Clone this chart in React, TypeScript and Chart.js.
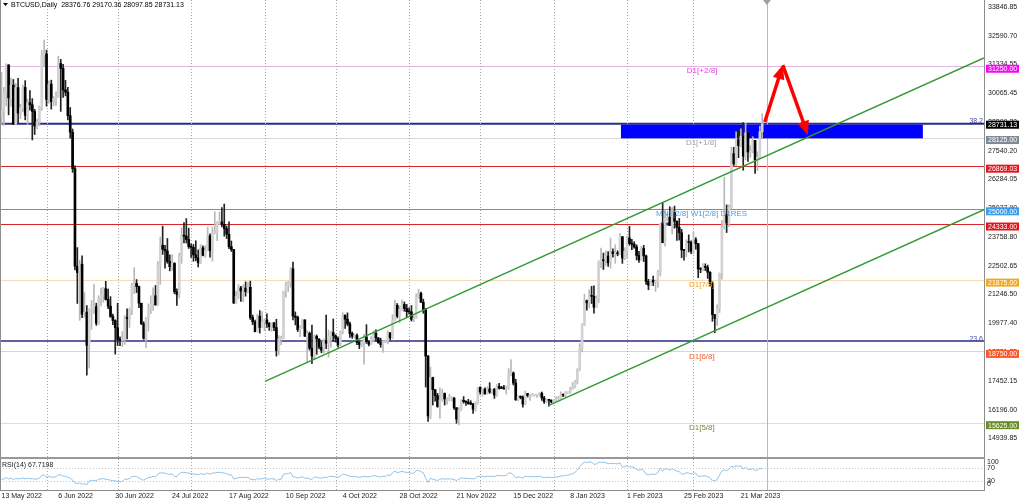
import React, { useEffect, useRef } from "react";
import { Chart, registerables } from "chart.js";

Chart.register(...registerables);

const FONT = '"Liberation Sans", Arial, sans-serif';

// ---------------- data ----------------
const symbolName = "BTCUSD,Daily";
const rsiName = "RSI(14)";
const firstOpen = 29030;

// daily closes 13 May 2022 .. 30 Mar 2023
const closes = [
  // May 2022 (13..31)
  29283, 30101, 31305, 29862, 30425, 28720, 30314, 29200, 29432, 30323, 29098, 29655, 29562, 29267, 28627, 28814, 29445, 31726, 31792,
  // Jun
  29799, 30467, 29704, 29833, 29906, 31370, 31155, 30214, 30112, 29083, 28360, 26762, 22487, 22206, 22572, 20381, 20472, 19017, 20553, 20599, 20710, 19988, 21086, 21231, 21502, 21028, 20735, 20281, 20104, 19785,
  // Jul
  19269, 19243, 19297, 20232, 20191, 20548, 21637, 21731, 21592, 20861, 19970, 19323, 20212, 20569, 20837, 21191, 20785, 22525, 23410, 23223, 23155, 22685, 22465, 22610, 21361, 21240, 22930, 23844, 23804, 23656, 23337,
  // Aug
  23314, 22978, 22846, 22630, 23289, 22961, 23175, 23810, 23164, 23948, 23957, 24402, 24424, 24319, 24136, 23883, 23336, 23213, 20877, 21166, 21534, 21398, 21529, 21368, 21560, 20239, 20041, 19616, 20297, 19797, 20049,
  // Sep
  20127, 19969, 19833, 20001, 19796, 18791, 19290, 19329, 21381, 21680, 21769, 22370, 20296, 20241, 19701, 19772, 20127, 19419, 19544, 18890, 18547, 19413, 19297, 18937, 18803, 19222, 19110, 19426, 19573, 19431,
  // Oct
  19312, 19044, 19623, 20336, 20160, 19955, 19531, 19417, 19446, 19141, 19051, 19157, 19382, 19185, 19067, 19268, 19550, 19334, 19139, 19053, 19172, 19208, 19567, 19345, 20095, 20771, 20295, 20591, 20809, 20627, 20490,
  // Nov
  20483, 20151, 20207, 21148, 21299, 20905, 20591, 18547, 15922, 17601, 17070, 16812, 16330, 16619, 16900, 16662, 16692, 16700, 16700, 16280, 15782, 16196, 16603, 16547, 16521, 16460, 16445, 16217, 16445, 17168,
  // Dec
  16968, 17092, 16885, 17106, 16967, 17089, 16837, 17222, 17134, 17129, 17105, 17186, 17776, 17806, 17364, 16631, 16776, 16738, 16439, 16906, 16818, 16830, 16831, 16838, 16841, 16918, 16707, 16547, 16634, 16607, 16540,
  // Jan 2023
  16616, 16673, 16674, 16852, 16832, 16951, 16955, 17091, 17196, 17446, 17934, 18869, 19909, 20976, 20880, 21169, 21161, 20689, 21086, 22676, 22777, 22720, 22934, 22636, 23117, 23032, 23078, 23031, 23774, 22840, 23139,
  // Feb
  23723, 23471, 23449, 23331, 22955, 22760, 23264, 22939, 21819, 21651, 21870, 21788, 21808, 22220, 24327, 23517, 24569, 24631, 24271, 24842, 24453, 24188, 23947, 23199, 23175, 23562, 23522, 23147,
  // Mar (1..30)
  23646, 23475, 22362, 22354, 22436, 22429, 22220, 21718, 20363, 20187, 20633, 22163, 24197, 24746, 24375, 25052, 27423, 26966, 28038, 27767, 28176, 27307, 28333, 27493, 27494, 27994, 27139, 27268, 28376.76, 28731.13,
];

const highs = [
  30980, 30320, 31360, 31320, 30730, 30670, 30500, 30720, 29590, 30420, 30620, 29810, 30180, 29830, 29360, 28930, 29510, 31940, 32400,
  31960, 30610, 30640, 29920, 30130, 31690, 31550, 31330, 30630, 30330, 29440, 28500, 26880, 23300, 22750, 22940, 21330, 20760, 20610, 20990, 21690, 20860, 21190, 21520, 21560, 21820, 21480, 21150, 20390, 20140,
  20860, 19390, 19620, 20320, 20620, 20650, 21730, 22420, 21900, 21610, 20860, 20050, 20240, 20830, 21190, 21540, 21640, 22690, 23760, 24240, 23400, 23700, 22980, 22990, 22640, 21490, 23050, 24170, 24400, 24570, 24150,
  23470, 23440, 23600, 23200, 23430, 23380, 23380, 24200, 23900, 24200, 24870, 24440, 24860, 25050, 25210, 24250, 24430, 23590, 23220, 21380, 21680, 21600, 21670, 21800, 21780, 21830, 20340, 20120, 20380, 20540, 20490,
  20180, 20400, 20020, 20010, 20020, 20160, 19440, 19420, 21390, 21790, 21820, 22430, 22670, 20480, 20300, 19880, 20160, 20140, 19660, 19600, 19900, 19470, 19470, 19300, 19150, 19300, 20340, 19690, 19630, 20170,
  19480, 19390, 19650, 20440, 20350, 20440, 20040, 19600, 19510, 19520, 19200, 19210, 19500, 19920, 19210, 19400, 19660, 19690, 19360, 19330, 19240, 19250, 19650, 19580, 20360, 21000, 20850, 20730, 21000, 20920, 20810,
  20660, 20760, 20380, 21270, 21470, 21350, 21040, 20640, 18570, 18070, 17620, 17080, 16910, 17150, 17090, 16930, 16730, 16860, 16780, 16740, 16280, 16290, 16640, 16770, 16580, 16650, 16590, 16470, 16540, 17180,
  17200, 17100, 17150, 17200, 17380, 17100, 17130, 17300, 17350, 17220, 17260, 17240, 18000, 18390, 17850, 17530, 16800, 16800, 16800, 17010, 16910, 16860, 16900, 16860, 16860, 16940, 16970, 16780, 16650, 16640, 16630,
  16630, 16760, 16780, 16980, 16880, 16990, 16970, 17180, 17390, 17480, 17990, 19090, 19960, 21260, 21000, 21450, 21600, 21620, 21180, 22720, 23280, 23060, 23160, 23130, 23720, 23250, 23430, 23160, 23920, 23790, 23290,
  23790, 24230, 23660, 23560, 23420, 23140, 23350, 23400, 22970, 21910, 21900, 22050, 21880, 22300, 24360, 25250, 24970, 24800, 25090, 25050, 25120, 24470, 24580, 24100, 23210, 23640, 23860, 23600,
  23970, 23740, 23480, 22420, 22600, 22590, 22530, 22250, 21800, 20370, 20790, 22190, 24500, 26390, 25170, 25180, 27700, 27700, 28380, 28470, 28510, 28780, 28750, 28380, 27770, 28160, 28000, 27500, 28620, 29170.36,
];

const lows = [
  28700, 28660, 29510, 29120, 29500, 28700, 28680, 28750, 28950, 29260, 28900, 28700, 29320, 28020, 28260, 28500, 28640, 29320, 31230,
  29500, 29630, 29370, 29520, 29530, 29890, 29270, 29880, 29950, 28900, 28100, 26600, 22320, 20850, 20110, 20230, 20250, 17710, 18020, 19720, 20400, 19890, 19930, 20740, 20900, 21000, 20620, 20240, 19920, 18630,
  19010, 19000, 18960, 19060, 19300, 19800, 20360, 21280, 21330, 20670, 19920, 19280, 18910, 19650, 20400, 20550, 20780, 20780, 21690, 23000, 22400, 22610, 22280, 22300, 21280, 20770, 21090, 22610, 23500, 23500, 23260,
  22870, 22700, 22720, 22450, 22600, 22930, 22870, 23160, 22880, 22700, 23900, 23600, 24290, 24210, 23800, 23700, 23250, 23130, 20840, 20860, 21070, 20940, 20930, 21170, 21320, 20150, 19920, 19600, 19600, 19550, 19790,
  19650, 19800, 19670, 19630, 19660, 18540, 18600, 19030, 19320, 21130, 21370, 21560, 20130, 19910, 19620, 19390, 19760, 19400, 18290, 18810, 18210, 18400, 18620, 18860, 18690, 18680, 18870, 18500, 18940, 19200,
  19160, 18930, 19000, 19520, 19760, 19870, 19360, 19320, 19330, 19050, 18870, 18960, 18190, 19100, 18990, 19060, 19160, 19200, 19100, 18930, 18710, 19130, 19080, 19240, 19310, 20070, 20220, 20010, 20560, 20510, 20240,
  20380, 20080, 20050, 20190, 21080, 20900, 20420, 17190, 15680, 15800, 16400, 16570, 16300, 15820, 16560, 16400, 16430, 16580, 16580, 16210, 15600, 15530, 16160, 16480, 16380, 16430, 16410, 16030, 16130, 16440,
  16870, 16790, 16880, 16880, 16910, 16910, 16690, 16780, 17090, 17120, 17090, 16880, 17090, 17670, 17280, 16600, 16590, 16670, 16300, 16420, 16750, 16600, 16790, 16790, 16730, 16790, 16600, 16470, 16500, 16350, 16490,
  16500, 16570, 16610, 16660, 16760, 16720, 16910, 16910, 17090, 17150, 17320, 17900, 18730, 19890, 20560, 20660, 20850, 20430, 20670, 20880, 22420, 22340, 22520, 22470, 22400, 22880, 22610, 22940, 22990, 22610, 22770,
  22850, 23400, 23210, 23270, 22760, 22650, 22740, 22690, 21690, 21450, 21630, 21630, 21380, 21550, 22060, 23510, 23360, 24470, 24270, 23900, 24150, 23620, 23630, 22860, 22750, 22910, 23110, 23030,
  23030, 23230, 21980, 22200, 22280, 22290, 21950, 21610, 20070, 19570, 19890, 20450, 21920, 24120, 23960, 24230, 25000, 26900, 26900, 27240, 27720, 26690, 27150, 27080, 27260, 27450, 26550, 26680, 27250, 28097.85,
];

const rsiValues = [
  34, 36, 40, 36, 38, 34, 38, 36, 37, 39, 36, 38, 37, 37, 35, 36, 38, 47, 48,
  41, 44, 41, 42, 42, 49, 48, 45, 44, 41, 38, 33, 23, 22, 24, 20, 21, 18, 30, 31, 32, 30, 35, 36, 37, 35, 34, 32, 31, 30,
  28, 28, 29, 35, 35, 37, 43, 44, 43, 39, 35, 32, 37, 40, 41, 44, 42, 51, 55, 54, 54, 51, 50, 51, 44, 43, 52, 56, 56, 55, 53,
  53, 51, 50, 49, 52, 50, 51, 54, 50, 54, 54, 56, 56, 55, 54, 52, 49, 48, 36, 38, 40, 40, 41, 40, 41, 35, 34, 33, 37, 35, 37,
  37, 36, 35, 37, 36, 31, 35, 35, 50, 52, 52, 56, 42, 42, 39, 40, 43, 38, 39, 36, 34, 42, 41, 39, 38, 41, 40, 43, 44, 43,
  42, 40, 45, 51, 49, 47, 44, 43, 44, 42, 41, 42, 44, 43, 42, 44, 46, 45, 43, 42, 44, 44, 48, 46, 55, 60, 55, 57, 59, 57, 56,
  56, 53, 54, 61, 62, 58, 55, 38, 25, 38, 35, 33, 31, 35, 37, 35, 36, 36, 36, 34, 31, 35, 39, 38, 38, 37, 37, 36, 38, 44,
  43, 44, 42, 45, 43, 45, 42, 47, 46, 46, 46, 47, 54, 54, 48, 40, 42, 41, 38, 44, 43, 43, 43, 43, 43, 44, 42, 40, 41, 41, 40,
  41, 42, 42, 45, 45, 47, 47, 50, 52, 56, 63, 74, 82, 88, 86, 88, 88, 80, 82, 87, 87, 86, 86, 82, 84, 83, 83, 82, 85, 72, 74,
  77, 73, 73, 71, 65, 62, 66, 62, 50, 48, 51, 50, 50, 55, 70, 60, 67, 67, 63, 67, 63, 60, 58, 51, 51, 55, 54, 51,
  55, 53, 44, 44, 45, 45, 43, 39, 31, 30, 34, 48, 61, 64, 61, 65, 75, 72, 77, 74, 76, 66, 72, 65, 65, 68, 62, 63, 68, 67.7198,
];

const dateTickIndex = [0, 24, 48, 72, 96, 120, 144, 168, 192, 216, 240, 264, 288, 312];
const dateTickLabels = [
  "13 May 2022", "6 Jun 2022", "30 Jun 2022", "24 Jul 2022", "17 Aug 2022", "10 Sep 2022", "4 Oct 2022",
  "28 Oct 2022", "21 Nov 2022", "15 Dec 2022", "8 Jan 2023", "1 Feb 2023", "25 Feb 2023", "21 Mar 2023",
];
const monthStartIndex = [19, 49, 80, 111, 141, 172, 202, 233, 264, 292];
const shiftIndex = 323;

const priceTicks = [
  33846.85, 32590.7, 31334.55, 30065.45, 28809.3, 27540.2, 26284.05, 25027.9, 23758.8, 22502.65, 21246.5,
  19977.4, 18721.25, 17452.15, 16196.0, 14939.85,
];
const rsiTicks = [100, 70, 30, 0];
const rsiLevels = [70, 30];

const levelPrices = [31250, 28731.13, 28125, 26869.03, 25000, 24333, 21875, 19200, 18750, 15625];
const boxPrices = [31250, 28731.13, 28125, 26869.03, 25000, 24333, 21875, 18750, 15625];
const fibPrices = [28731.13, 19200];
const fibNames = ["38.2", "23.6"];
const murreyNames = ["D1[+2/8]", "D1[+1/8]", "MN1[2/8] W1[2/8] D1RES", "D1[7/8]", "D1[6/8]", "D1[5/8]"];
const murreyPrices = [31250, 28125, 25000, 21875, 18750, 15625];
const murreyIndex = [289.2, 288.8, 276.2, 290.1, 290.1, 290.1];
const zoneIndex = [261.4, 388.8];
const zonePrices = [28090, 28690];
const markIndex = [278.3, 282.1];
const markPrice = 24333;
const upperChannelIndex = [111.2, 414.6];
const upperChannelPrices = [17436, 31615];
const lowerChannelIndex = [231.0, 414.6];
const lowerChannelPrices = [16385, 24963];
const arrowIndex = [322.1, 329.7, 340.3];
const arrowPrices = [28805, 31300, 28237];

// axis ranges
const X_MIN = -0.633;
const X_MAX = 414.6;
const Y_MIN = 12630;
const Y_MAX = 34153.7;
const RSI_MIN = -1;
const RSI_MAX = 1502;

// ---------------- styles ----------------
const levelColors = ["#e2b4e2", "#2b2b86", "#d8d8d8", "#d9262b", "#3f9cf0", "#d9262b", "#f4dcb8", "#2b2b86", "#f6cbb0", "#e2e2b4"];
const levelWidths = [1, 2, 1, 1, 1, 1, 1, 1.5, 1, 1];
const boxColors = ["#ff00ff", "#000000", "#808a94", "#e8141c", "#3a9af0", "#e8141c", "#f2a81c", "#ff5626", "#6a8c26"];
const murreyColors = ["#e040e0", "#9ca2a8", "#4a9ee6", "#f0a21e", "#f05a22", "#6a9030"];

const opens = [firstOpen, ...closes.slice(0, -1)];
const isBull = closes.map((c, i) => c >= opens[i]);

function font(size: number) {
  return `${size}px ${FONT}`;
}

const overlayPlugin = {
  id: "mt4Overlay",
  beforeDatasetsDraw(chart: any) {
    const { ctx, chartArea: a, scales } = chart;
    const X = (v: number) => scales.x.getPixelForValue(v);
    const Y = (v: number) => scales.y.getPixelForValue(v);
    const R = (v: number) => scales.yRsi.getPixelForValue(v);
    const split = R(100);
    ctx.save();
    // horizontal levels
    levelPrices.forEach((p, k) => {
      const w = levelWidths[k];
      const y = w === 1 ? Math.round(Y(p)) + 0.5 : Y(p);
      ctx.strokeStyle = levelColors[k];
      ctx.lineWidth = w;
      ctx.beginPath();
      ctx.moveTo(a.left, y);
      ctx.lineTo(a.right, y);
      ctx.stroke();
    });
    // month separators
    ctx.strokeStyle = "#a8a8a8";
    ctx.lineWidth = 1;
    ctx.setLineDash([1, 2]);
    monthStartIndex.forEach((i) => {
      const x = Math.round(X(i)) + 0.5;
      ctx.beginPath();
      ctx.moveTo(x, a.top);
      ctx.lineTo(x, a.bottom);
      ctx.stroke();
    });
    // rsi levels
    ctx.strokeStyle = "#c8c8c8";
    rsiLevels.forEach((v) => {
      const y = Math.round(R(v)) + 0.5;
      ctx.beginPath();
      ctx.moveTo(a.left, y);
      ctx.lineTo(a.right, y);
      ctx.stroke();
    });
    ctx.setLineDash([]);
    // shift line
    const sx = Math.round(X(shiftIndex)) + 0.5;
    ctx.strokeStyle = "#b8b8b8";
    ctx.beginPath();
    ctx.moveTo(sx, a.top);
    ctx.lineTo(sx, a.bottom);
    ctx.stroke();
    // blue zone
    ctx.beginPath();
    ctx.rect(a.left, a.top, a.right - a.left, split - a.top);
    ctx.clip();
    const zx0 = X(zoneIndex[0]);
    const zx1 = X(zoneIndex[1]);
    const zy0 = Y(zonePrices[1]);
    const zy1 = Y(zonePrices[0]);
    ctx.fillStyle = "#0000ff";
    ctx.fillRect(zx0, zy0, zx1 - zx0, zy1 - zy0);
    // small mark
    ctx.strokeStyle = "#3a2c9c";
    ctx.lineWidth = 3;
    ctx.beginPath();
    ctx.moveTo(X(markIndex[0]), Y(markPrice));
    ctx.lineTo(X(markIndex[1]), Y(markPrice));
    ctx.stroke();
    ctx.restore();
  },
  afterDatasetsDraw(chart: any) {
    const { ctx, chartArea: a, scales } = chart;
    const X = (v: number) => scales.x.getPixelForValue(v);
    const Y = (v: number) => scales.y.getPixelForValue(v);
    const R = (v: number) => scales.yRsi.getPixelForValue(v);
    const split = R(100);
    ctx.save();

    // red arrow
    const pts = arrowIndex.map((i, k) => [X(i), Y(arrowPrices[k])]);
    ctx.strokeStyle = "#ff0000";
    ctx.fillStyle = "#ff0000";
    ctx.lineWidth = 3.5;
    ctx.lineCap = "butt";
    for (let k = 0; k < pts.length - 1; k++) {
      const [x0, y0] = pts[k];
      const [x1, y1] = pts[k + 1];
      const ang = Math.atan2(y1 - y0, x1 - x0);
      const cs = Math.cos(ang);
      const sn = Math.sin(ang);
      const hl = 14;
      const hw = 6;
      const bx = x1 - hl * cs;
      const by = y1 - hl * sn;
      ctx.beginPath();
      ctx.moveTo(x0, y0);
      ctx.lineTo(bx + cs, by + sn);
      ctx.stroke();
      ctx.beginPath();
      ctx.moveTo(x1, y1);
      ctx.lineTo(bx - hw * sn, by + hw * cs);
      ctx.lineTo(bx + hw * sn, by - hw * cs);
      ctx.closePath();
      ctx.fill();
    }

    // murrey labels
    ctx.font = font(8);
    ctx.textBaseline = "middle";
    ctx.textAlign = "left";
    murreyNames.forEach((t, k) => {
      ctx.fillStyle = murreyColors[k];
      ctx.fillText(t, X(murreyIndex[k]), Y(murreyPrices[k]) + 5);
    });

    // fib labels
    ctx.font = font(7);
    ctx.textAlign = "right";
    ctx.fillStyle = "#4a4aa0";
    fibPrices.forEach((p, k) => {
      ctx.fillText(fibNames[k], a.right - 1, Y(p) - 2.5);
    });

    // frame
    ctx.strokeStyle = "#8c8c8c";
    ctx.lineWidth = 1;
    ctx.beginPath();
    ctx.moveTo(a.left + 0.5, a.top);
    ctx.lineTo(a.left + 0.5, a.bottom);
    ctx.moveTo(a.right + 0.5, a.top);
    ctx.lineTo(a.right + 0.5, a.bottom);
    ctx.moveTo(a.left, a.bottom - 0.5);
    ctx.lineTo(a.right + 1, a.bottom - 0.5);
    ctx.stroke();
    ctx.strokeStyle = "#999999";
    ctx.lineWidth = 2;
    ctx.beginPath();
    ctx.moveTo(a.left, split);
    ctx.lineTo(a.right + 1, split);
    ctx.stroke();

    // shift marker triangle
    const sx = X(shiftIndex);
    ctx.fillStyle = "#a0a0a0";
    ctx.beginPath();
    ctx.moveTo(sx - 4, a.top);
    ctx.lineTo(sx + 4, a.top);
    ctx.lineTo(sx, a.top + 5);
    ctx.closePath();
    ctx.fill();

    // price boxes on axis
    ctx.font = font(7);
    ctx.textAlign = "left";
    ctx.textBaseline = "middle";
    boxPrices.forEach((p, k) => {
      const yc = Y(p) + (k === 1 ? 1 : 2.5);
      ctx.fillStyle = boxColors[k];
      ctx.fillRect(a.right + 2, yc - 4, 33, 8);
      ctx.fillStyle = "#ffffff";
      ctx.fillText(p.toFixed(2), a.right + 4, yc + 0.5);
    });

    // rsi axis labels
    ctx.fillStyle = "#1a1a1a";
    rsiTicks.forEach((v) => {
      const y = Math.min(Math.max(R(v), split + 4), a.bottom - 6.5);
      ctx.fillText(String(v), a.right + 3, y);
    });

    // rsi label
    const n = closes.length - 1;
    ctx.fillText(`${rsiName} ${rsiValues[n].toFixed(4)}`, a.left + 2, split + 7);

    // title
    ctx.fillStyle = "#000000";
    ctx.beginPath();
    ctx.moveTo(a.left + 3, a.top + 3);
    ctx.lineTo(a.left + 8, a.top + 3);
    ctx.lineTo(a.left + 5.5, a.top + 6);
    ctx.closePath();
    ctx.fill();
    ctx.fillText(
      `${symbolName}  ${opens[n].toFixed(2)} ${highs[n].toFixed(2)} ${lows[n].toFixed(2)} ${closes[n].toFixed(2)}`,
      a.left + 11,
      a.top + 5.5
    );
    ctx.restore();
  },
};

export default function App() {
  const ref = useRef<HTMLCanvasElement>(null);
  useEffect(() => {
    document.body.style.margin = "0";
    Chart.defaults.font.family = FONT;
    const idx = closes.map((_, i) => i);
    const chart = new Chart(ref.current as HTMLCanvasElement, {
      type: "bar",
      data: {
        datasets: [
          {
            type: "line",
            data: upperChannelIndex.map((x, k) => ({ x, y: upperChannelPrices[k] })),
            borderColor: "#339933",
            borderWidth: 1.5,
            pointRadius: 0,
            xAxisID: "x",
            yAxisID: "y",
            order: 0,
          } as any,
          {
            type: "line",
            data: lowerChannelIndex.map((x, k) => ({ x, y: lowerChannelPrices[k] })),
            borderColor: "#339933",
            borderWidth: 1.5,
            pointRadius: 0,
            xAxisID: "x",
            yAxisID: "y",
            order: 0,
          } as any,
          {
            type: "bar",
            data: idx.map((i) => ({ x: i, y: [opens[i], closes[i]] })),
            backgroundColor: isBull.map((b) => (b ? "#d2d2d2" : "#000000")),
            barThickness: 2,
            grouped: false,
            minBarLength: 1,
            xAxisID: "x",
            yAxisID: "y",
            order: 1,
          } as any,
          {
            type: "bar",
            data: idx.map((i) => ({ x: i, y: [lows[i], highs[i]] })),
            backgroundColor: isBull.map((b) => (b ? "#b8b8b8" : "#222222")),
            barThickness: 1,
            grouped: false,
            xAxisID: "x",
            yAxisID: "y",
            order: 2,
          } as any,
          {
            type: "line",
            data: idx.map((i) => ({ x: i, y: rsiValues[i] })),
            borderColor: "#92c2e6",
            borderWidth: 1,
            pointRadius: 0,
            tension: 0,
            xAxisID: "x",
            yAxisID: "yRsi",
            order: 3,
          } as any,
        ],
      },
      options: {
        responsive: false,
        animation: false,
        devicePixelRatio: 1,
        events: [],
        layout: { padding: 0 },
        plugins: {
          legend: { display: false },
          tooltip: { enabled: false },
          title: { display: false },
        },
        scales: {
          x: {
            type: "linear",
            axis: "x",
            min: X_MIN,
            max: X_MAX,
            offset: false,
            position: "bottom",
            grid: { display: false, drawTicks: false, offset: false },
            border: { display: false },
            ticks: {
              autoSkip: false,
              maxRotation: 0,
              minRotation: 0,
              align: "start",
              padding: 1,
              color: "#1a1a1a",
              font: { size: 7, family: FONT },
              callback: (_v: any, i: number) => dateTickLabels[i] ?? "",
            },
            afterBuildTicks: (s: any) => {
              s.ticks = dateTickIndex.map((v) => ({ value: v }));
            },
            afterFit: (s: any) => {
              s.height = 10;
              s.paddingLeft = 0;
              s.paddingRight = 0;
            },
          },
          y: {
            type: "linear",
            axis: "y",
            position: "right",
            min: Y_MIN,
            max: Y_MAX,
            grid: { display: false, drawTicks: false },
            border: { display: false },
            ticks: {
              autoSkip: false,
              padding: 4,
              color: "#1a1a1a",
              font: { size: 7, family: FONT },
              callback: (v: any) => Number(v).toFixed(2),
            },
            afterBuildTicks: (s: any) => {
              s.ticks = priceTicks.map((v) => ({ value: v }));
            },
            afterFit: (s: any) => {
              s.width = 40;
              s.paddingTop = 0;
              s.paddingBottom = 0;
            },
          },
          yRsi: {
            type: "linear",
            axis: "y",
            position: "right",
            display: false,
            min: RSI_MIN,
            max: RSI_MAX,
          },
        },
      } as any,
      plugins: [overlayPlugin],
    });
    return () => chart.destroy();
  }, []);

  return (
    <div style={{ position: "absolute", left: 0, top: 0, width: 1024, height: 501, background: "#ffffff" }}>
      <canvas ref={ref} width={1024} height={501} style={{ display: "block", width: 1024, height: 501 }} />
    </div>
  );
}
